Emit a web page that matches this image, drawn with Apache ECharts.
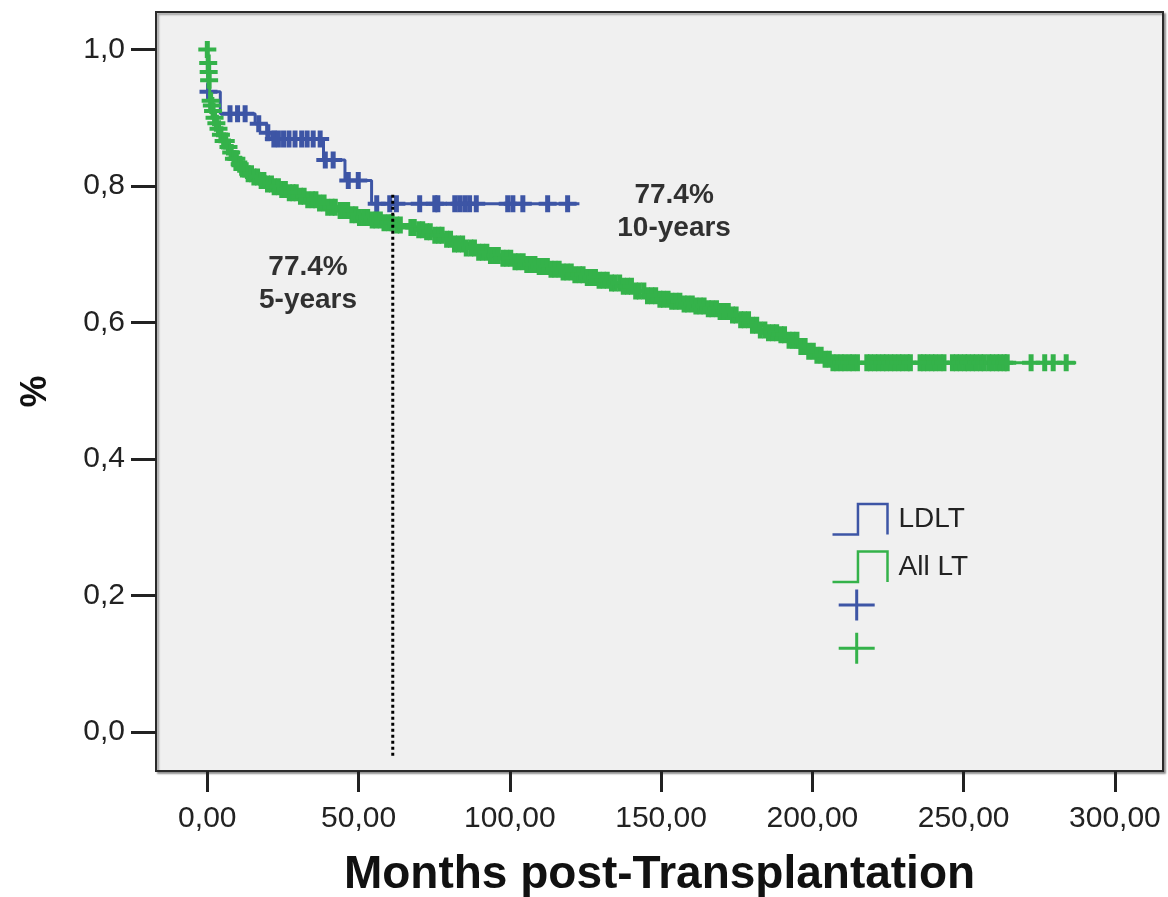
<!DOCTYPE html>
<html><head><meta charset="utf-8">
<script src="https://cdn.jsdelivr.net/npm/echarts@6/dist/echarts.min.js"></script>
<style>html,body{margin:0;padding:0;background:#fff}#c{width:1168px;height:897px}</style>
</head><body><div id="c"></div>
<script>
// ---- data ----
const xTicks = [0, 50, 100, 150, 200, 250, 300];
const yTicks = [0, 0.2, 0.4, 0.6, 0.8, 1.0];

// LDLT Kaplan-Meier step points (month, survival after that month)
const ldltTimes = [0, 0.3, 4.3, 15.8, 19.7, 21.3, 38.4, 45.5, 54.3, 123];
const ldltSurv  = [1.0, 0.938, 0.906, 0.891, 0.878, 0.869, 0.838, 0.808, 0.774, 0.774];
// LDLT censored observations (months)
const ldltCensor = [0.4, 7.5, 10.0, 12.5, 17.0, 20.0, 22.0, 23.5, 25.2, 27.0, 29.0, 31.2, 33.0, 35.0, 37.3,
  39.0, 41.6, 46.6, 49.9, 56.0, 60.3, 62.5, 70.2, 75.2, 76.2, 81.8, 83.4, 85.1, 86.7, 88.9,
  99.3, 101.0, 104.3, 112.5, 119.1];

// All LT Kaplan-Meier step points
const allTimes = [0, 0.15, 0.3, 0.45, 0.6, 1.0, 1.3, 1.7, 2.2, 2.8, 3.5, 4.3, 5.2, 6.2, 7.3, 8.6, 10, 11.5, 13, 14.8,
  16.8, 19, 21.5, 24, 27, 30, 33, 36, 39.5, 43, 46.5, 50, 54, 58, 62, 66, 69, 72, 75, 78, 81, 85, 89, 93, 97,
  101, 105, 109, 113, 117, 121, 125, 129, 133, 137, 141, 145, 149, 153, 157, 161, 165, 169, 173, 176, 179,
  182, 185, 189, 192, 195, 198, 201, 204, 206.5, 287.2];
const allSurv = [1.0, 0.99, 0.98, 0.967, 0.955, 0.925, 0.918, 0.91, 0.90, 0.892, 0.884, 0.875, 0.866, 0.857, 0.849,
  0.84, 0.832, 0.825, 0.818, 0.813, 0.808, 0.803, 0.799, 0.795, 0.790, 0.785, 0.780, 0.775, 0.769, 0.764,
  0.758, 0.754, 0.750, 0.746, 0.743, 0.739, 0.736, 0.733, 0.728, 0.722, 0.715, 0.709, 0.703, 0.698, 0.694,
  0.689, 0.685, 0.682, 0.678, 0.674, 0.670, 0.666, 0.662, 0.658, 0.653, 0.646, 0.639, 0.634, 0.631, 0.627,
  0.624, 0.620, 0.616, 0.611, 0.604, 0.596, 0.589, 0.585, 0.582, 0.574, 0.565, 0.558, 0.552, 0.546, 0.541, 0.541];
// All LT censored observations (months)
const allCensor = [0, 0.3, 0.45, 0.6, 1.1, 1.5, 1.9, 2.4, 3.0, 3.7, 4.5, 5.4, 6.1, 7.0, 7.9, 8.8, 9.6, 10.7, 11.6,
  12.4, 13.5, 14.6, 15.4, 16.6, 17.8, 18.7, 19.9, 21.2, 22.1, 23.5, 24.6, 25.8, 27.1, 28.3, 29.4, 30.8, 32.0,
  33.2, 34.7, 35.9, 37.1, 38.6, 39.8, 41.2, 42.3, 43.9, 45.0, 46.4, 47.8, 49.1, 50.3, 51.9, 53.0, 54.5, 55.8,
  57.2, 58.4, 59.9, 61.1, 62.6, 63.8, 67.3, 68.4, 69.9, 71.2, 72.5, 73.7, 75.2, 76.5, 77.6, 79.1, 80.4, 81.7,
  83.0, 84.4, 85.6, 87.1, 88.3, 89.7, 91.0, 92.4, 93.6, 95.1, 96.2, 97.7, 99.0, 100.3, 101.7, 102.9, 104.4,
  105.6, 107.0, 108.3, 109.7, 110.9, 112.4, 113.6, 114.9, 116.3, 117.6, 118.9, 120.3, 121.5, 123.0, 124.2,
  125.6, 126.9, 128.3, 129.5, 130.9, 132.2, 133.6, 134.8, 136.3, 137.5, 138.9, 140.2, 141.6, 142.8, 144.3,
  145.5, 146.9, 148.2, 149.6, 150.8, 152.3, 153.5, 154.9, 156.2, 157.6, 158.8, 160.3, 161.5, 162.9, 164.2,
  165.6, 166.8, 168.3, 169.5, 170.9, 172.2, 173.6, 174.8, 176.3, 177.5, 178.9, 180.2, 181.6, 182.8, 184.3,
  185.5, 186.9, 188.2, 189.6, 190.8, 192.3, 193.5, 194.9, 196.2, 197.6, 198.8, 200.3, 201.5, 202.9, 204.2,
  205.6, 206.8, 208.1, 209.5, 210.7, 212.2, 213.4, 214.9, 218.0, 219.2, 220.6, 221.9, 223.3, 224.5, 225.9,
  227.2, 228.6, 229.8, 231.3, 232.4, 235.6, 236.8, 238.1, 239.5, 240.7, 242.2, 243.5, 246.3, 247.6, 248.9,
  250.3, 251.5, 252.9, 254.2, 255.6, 256.8, 258.3, 259.5, 260.9, 262.1, 263.4, 264.4, 272.3, 276.8, 279.6, 283.9];

// 5-year reference line and annotation texts
const refMonth = 61.3;
const refRange = [0.787, -0.038];
const noteTexts = ['77.4%\n5-years', '77.4%\n10-years'];
const noteAnchors = [[33.3, 0.656], [154.3, 0.762]];

// ---- helpers ----
const BLUE = '#3d55a5', GREEN = '#34b24a';
function survAt(times, surv, t) {
  let s = surv[0];
  for (let i = 0; i < times.length; i++) { if (times[i] <= t) s = surv[i]; else break; }
  return s;
}
const pair = (ts, ss) => ts.map((t, i) => [t, ss[i]]);
const censorPts = (cs, ts, ss) => cs.map(t => [t, survAt(ts, ss, t)]);
const PLUS = 'path://M6.5,0H11.5V6.5H18V10.5H11.5V17H6.5V10.5H0V6.5H6.5Z';
const PLUS_LEG = 'path://M16.5,0H19.5V14H36V17H19.5V31H16.5V17H0V14H16.5Z';
const STEP_LEG = 'path://M0,31L25,31L25,1L54,1L54,31';
const FONT = '"Liberation Sans", Arial, sans-serif';

const chart = echarts.init(document.getElementById('c'), null, {renderer: 'canvas'});
chart.setOption({
  animation: false,
  backgroundColor: '#fff',
  textStyle: {fontFamily: FONT},
  grid: {
    left: 156, top: 12, right: 5, bottom: 126, show: true, containLabel: false, outerBoundsMode: 'none',
    backgroundColor: '#f0f0f0', borderColor: '#2a2a2a', borderWidth: 2,
    shadowColor: 'rgba(0,0,0,0.35)', shadowBlur: 2, shadowOffsetX: 2, shadowOffsetY: 2
  },
  xAxis: {
    type: 'value', min: -16.96, max: 315.9,
    name: 'Months post-Transplantation', nameLocation: 'middle', nameGap: 81,
    nameTextStyle: {fontSize: 46, fontWeight: 'bold', color: '#111', fontFamily: FONT},
    axisLine: {show: false, onZero: false},
    splitLine: {show: false},
    axisTick: {show: true, length: 21, customValues: xTicks, lineStyle: {color: '#222', width: 3}},
    axisLabel: {customValues: xTicks, margin: 33, fontSize: 30, color: '#222', fontFamily: FONT,
      formatter: v => v.toFixed(2).replace('.', ',')}
  },
  yAxis: {
    type: 'value', min: -0.0571, max: 1.0549,
    name: '%', nameLocation: 'middle', nameRotate: 90, nameGap: 102,
    nameTextStyle: {fontSize: 36, fontWeight: 'bold', color: '#111', fontFamily: FONT},
    axisLine: {show: false, onZero: false},
    splitLine: {show: false},
    axisTick: {show: true, length: 25, customValues: yTicks, lineStyle: {color: '#222', width: 3}},
    axisLabel: {customValues: yTicks, margin: 31, fontSize: 30, color: '#222', fontFamily: FONT,
      formatter: v => v.toFixed(1).replace('.', ',')}
  },
  legend: [{
    orient: 'vertical', left: 830, top: 501.5, padding: 0,
    itemWidth: 55, itemHeight: 32, itemGap: 12, selectedMode: false,
    textStyle: {fontSize: 28, color: '#222', fontFamily: FONT, padding: [0, 0, 0, 6]},
    data: [
      {name: 'LDLT', icon: STEP_LEG, itemStyle: {color: 'none', borderColor: BLUE, borderWidth: 2.5}},
      {name: 'All LT', icon: STEP_LEG, itemStyle: {color: 'none', borderColor: GREEN, borderWidth: 2.5}}
    ]
  }, {
    orient: 'vertical', left: 838.7, top: 589.5, padding: 0,
    itemWidth: 36, itemHeight: 31, itemGap: 12.3, selectedMode: false,
    formatter: () => '',
    data: [
      {name: 'LDLT censored', icon: PLUS_LEG, itemStyle: {color: BLUE, borderWidth: 0}},
      {name: 'All LT censored', icon: PLUS_LEG, itemStyle: {color: GREEN, borderWidth: 0}}
    ]
  }],
  series: [
    {name: 'LDLT', type: 'line', step: 'end', showSymbol: false, symbol: 'none',
     data: pair(ldltTimes, ldltSurv), lineStyle: {color: BLUE, width: 3}, itemStyle: {color: BLUE}, z: 2},
    {name: 'LDLT censored', type: 'scatter', symbol: PLUS, symbolSize: [18, 17],
     data: censorPts(ldltCensor, ldltTimes, ldltSurv), itemStyle: {color: BLUE, opacity: 1}, z: 3},
    {name: 'All LT', type: 'line', step: 'end', showSymbol: false, symbol: 'none',
     data: pair(allTimes, allSurv), lineStyle: {color: GREEN, width: 3}, itemStyle: {color: GREEN}, z: 4},
    {name: 'All LT censored', type: 'scatter', symbol: PLUS, symbolSize: [18, 17],
     data: censorPts(allCensor, allTimes, allSurv), itemStyle: {color: GREEN, opacity: 1}, z: 5},
    {name: '5-year reference', type: 'line', showSymbol: false, symbol: 'none', silent: true,
     data: refRange.map(v => [refMonth, v]), lineStyle: {color: '#000', width: 3, type: [3, 3]}, z: 6},
    {name: 'notes', type: 'scatter', symbolSize: 0, silent: true, z: 7,
     data: noteAnchors.map((p, i) => ({value: p, name: noteTexts[i]})),
     label: {show: true, position: 'inside', formatter: '{b}', fontSize: 28, fontWeight: 'bold',
       lineHeight: 33, color: '#000', align: 'center', fontFamily: FONT}}
  ]
});
</script></body></html>
